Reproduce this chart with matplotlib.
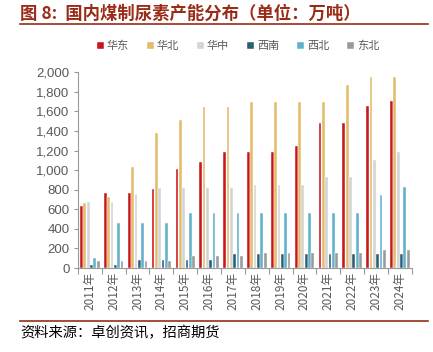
import numpy as np
import matplotlib
matplotlib.use("Agg")
import matplotlib.pyplot as plt
from matplotlib.lines import Line2D

plt.rcParams['font.family'] = ['Noto Sans CJK SC', 'DejaVu Sans']

years = ["2011年", "2012年", "2013年", "2014年", "2015年", "2016年", "2017年",
         "2018年", "2019年", "2020年", "2021年", "2022年", "2023年", "2024年"]
regions = ["华东", "华北", "华中", "西南", "西北", "东北"]

huadong = [638, 763, 763, 811, 1010, 1083, 1181, 1181, 1181, 1242, 1482, 1482, 1655, 1706]
huabei = [669, 730, 1030, 1378, 1509, 1641, 1641, 1695, 1695, 1695, 1695, 1868, 1949, 1949]
huazhong = [679, 679, 760, 821, 822, 822, 822, 849, 849, 849, 930, 930, 1107, 1184]
xinan = [27, 27, 81, 81, 81, 81, 142, 142, 142, 142, 142, 142, 142, 142]
xibei = [101, 456, 456, 456, 565, 565, 565, 565, 565, 565, 565, 565, 745, 826]
dongbei = [68, 68, 68, 68, 118, 118, 118, 152, 152, 152, 152, 152, 183, 183]

series = [huadong, huabei, huazhong, xinan, xibei, dongbei]
colors = ["#C8161D", "#E2BB6B", "#D4D4D4", "#2E5D72", "#62B1CA", "#9A9A9A"]

fig = plt.figure(figsize=(4.33, 3.52), dpi=100)
ax = fig.add_axes([0.180, 0.2386, 0.771, 0.556])

x = np.arange(len(years))
step = 0.14
width = 0.115
for i, (vals, c) in enumerate(zip(series, colors)):
    ax.bar(x + (i - 2.5) * step, vals, width, color=c, label=regions[i],
           edgecolor="white", linewidth=0.3)

ax.set_xlim(-0.5, len(years) - 0.5)
ax.set_ylim(0, 2000)
ax.set_yticks(range(0, 2001, 200))
ax.set_yticklabels([f"{v:,}" for v in range(0, 2001, 200)],
                   family="Liberation Sans", fontsize=9.5, color="#595959")
ax.set_xticks(np.arange(-0.5, len(years)), minor=False)
ax.set_xticklabels([])
ax.set_xticks(x, minor=True)
ax.set_xticklabels(years, minor=True, rotation=90, fontsize=8.5, color="#595959")
ax.tick_params(axis="x", which="minor", length=0, pad=3)
ax.tick_params(axis="x", which="major", length=4, color="#999999", direction="out")
ax.tick_params(axis="y", length=3, color="#999999", pad=3)

for s in ["top", "right"]:
    ax.spines[s].set_visible(False)
ax.spines["left"].set_color("#999999")
ax.spines["bottom"].set_color("#999999")

leg = fig.legend(loc="center", bbox_to_anchor=(0.55, 0.869), ncol=6, frameon=False,
                 fontsize=8, handlelength=0.6, handleheight=0.6, handletextpad=0.3,
                 columnspacing=1.6)
for t in leg.get_texts():
    t.set_color("#595959")

fig.text(0.046, 0.962, "图 8:  国内煤制尿素产能分布（单位：万吨）", fontsize=12.5,
         fontweight="bold", color="#9A2B17", va="center", ha="left")
fig.add_artist(Line2D([0.046, 0.988], [0.931, 0.931], color="#9A2B17", linewidth=1.2))
fig.add_artist(Line2D([0.046, 0.988], [0.088, 0.088], color="#9A2B17", linewidth=1.2))
fig.text(0.046, 0.053, "资料来源：卓创资讯，招商期货", fontsize=10.3, color="black",
         va="center", ha="left")

fig.savefig("out.png", dpi=100)
